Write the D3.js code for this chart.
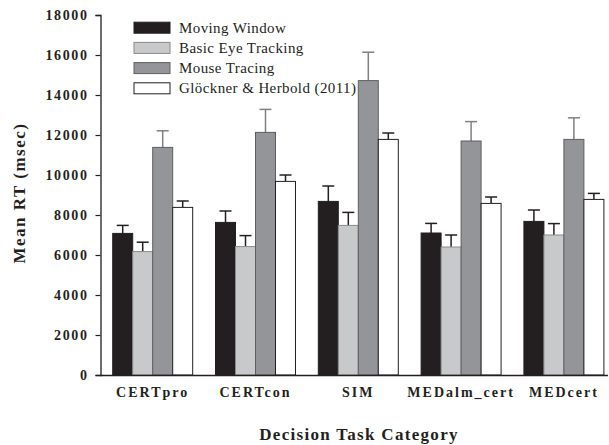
<!DOCTYPE html>
<html><head><meta charset="utf-8">
<script src="https://cdn.jsdelivr.net/npm/d3@7"></script>
<style>body{margin:0;background:#fff}svg{display:block}text{font-family:"Liberation Serif","Times New Roman",serif}</style>
</head><body><svg id="c" width="609" height="445"></svg>
<script>
const categories = ["CERTpro","CERTcon","SIM","MEDalm_cert","MEDcert"];
const seriesNames = ["Moving Window","Basic Eye Tracking","Mouse Tracing","Glöckner & Herbold (2011)"];
const movingWindow = [7080, 7630, 8680, 7100, 7680];
const movingWindowErr = [400, 570, 770, 480, 570];
const basicEye = [6170, 6420, 7480, 6400, 7000];
const basicEyeErr = [470, 550, 650, 600, 570];
const mouseTracing = [11380, 12130, 14720, 11700, 11780];
const mouseTracingErr = [830, 1150, 1420, 970, 1080];
const glockner = [8380, 9680, 11780, 8580, 8780];
const glocknerErr = [320, 320, 320, 320, 300];
const yTicks = [0,2000,4000,6000,8000,10000,12000,14000,16000,18000];

const seriesVals = [movingWindow, basicEye, mouseTracing, glockner];
const seriesErrs = [movingWindowErr, basicEyeErr, mouseTracingErr, glocknerErr];
const fills = ["#231f20","#c8c9cb","#939598","#ffffff"];
const strokes = ["#231f20","#8a8a8c","#5e5e60","#231f20"];
const errColors = ["#231f20","#231f20","#808083","#231f20"];

const svg = d3.select("#c");
const y = d3.scaleLinear().domain([0,18000]).range([375,15]);
const x = d3.scaleBand().domain(categories).range([101.3,615.3]).paddingInner(0.222).paddingOuter(0.111);
const xi = d3.scaleBand().domain(seriesNames).range([0,x.bandwidth()]);

const data = [];
categories.forEach((c,ci)=>seriesNames.forEach((s,si)=>data.push({c,s,si,v:seriesVals[si][ci],e:seriesErrs[si][ci]})));

const eg = svg.append("g");
data.forEach(d=>{
  const cx = x(d.c)+xi(d.s)+xi.bandwidth()/2;
  eg.append("line").attr("x1",cx).attr("x2",cx).attr("y1",y(d.v)).attr("y2",y(d.v+d.e))
    .attr("stroke",errColors[d.si]).attr("stroke-width",1.5);
  eg.append("line").attr("x1",cx-6).attr("x2",cx+6).attr("y1",y(d.v+d.e)).attr("y2",y(d.v+d.e))
    .attr("stroke",errColors[d.si]).attr("stroke-width",1.5);
});

svg.append("g").selectAll("rect").data(data).join("rect")
  .attr("x",d=>x(d.c)+xi(d.s))
  .attr("y",d=>y(d.v))
  .attr("width",xi.bandwidth())
  .attr("height",d=>y(0)-y(d.v))
  .attr("fill",d=>fills[d.si])
  .attr("stroke",d=>strokes[d.si])
  .attr("stroke-width",1);

const ya = svg.append("g").attr("transform","translate(100.5,0)")
  .call(d3.axisLeft(y).tickValues(yTicks).tickSize(5).tickFormat(d3.format("d")));
ya.select(".domain").attr("stroke","#231f20").attr("stroke-width",1.3);
ya.selectAll(".tick line").attr("stroke","#231f20").attr("stroke-width",1.2);
ya.selectAll(".tick text").attr("x",-12).attr("font-size",14).attr("font-weight","bold")
  .attr("letter-spacing","1.6px").attr("fill","#231f20").style("font-family","'Liberation Serif',serif");

const xa = svg.append("g").attr("transform","translate(0,375.5)")
  .call(d3.axisBottom(x).tickSize(0).tickSizeOuter(0));
xa.select(".domain").attr("d","M100,0H608").attr("stroke","#231f20").attr("stroke-width",1.5);
xa.selectAll(".tick text").attr("y",12).attr("font-size",14).attr("font-weight","bold")
  .attr("letter-spacing","2px").attr("fill","#231f20").style("font-family","'Liberation Serif',serif");

svg.append("text").attr("x",359).attr("y",440).attr("text-anchor","middle")
  .attr("font-size",17).attr("font-weight","bold").attr("letter-spacing","1.3px").attr("fill","#231f20")
  .text("Decision Task Category");
svg.append("text").attr("transform","translate(25,193) rotate(-90)").attr("text-anchor","middle")
  .attr("font-size",17).attr("font-weight","bold").attr("letter-spacing","1.5px").attr("fill","#231f20")
  .text("Mean RT (msec)");

const lg = svg.append("g");
seriesNames.forEach((s,i)=>{
  const cy = 27.7 + i*20.2;
  lg.append("rect").attr("x",134).attr("y",cy-5.5).attr("width",36).attr("height",11)
    .attr("fill",fills[i]).attr("stroke",strokes[i]).attr("stroke-width",1);
  lg.append("text").attr("x",179).attr("y",cy+5).attr("font-size",15).attr("letter-spacing","0.4px")
    .attr("fill","#231f20").text(s);
});
</script></body></html>
